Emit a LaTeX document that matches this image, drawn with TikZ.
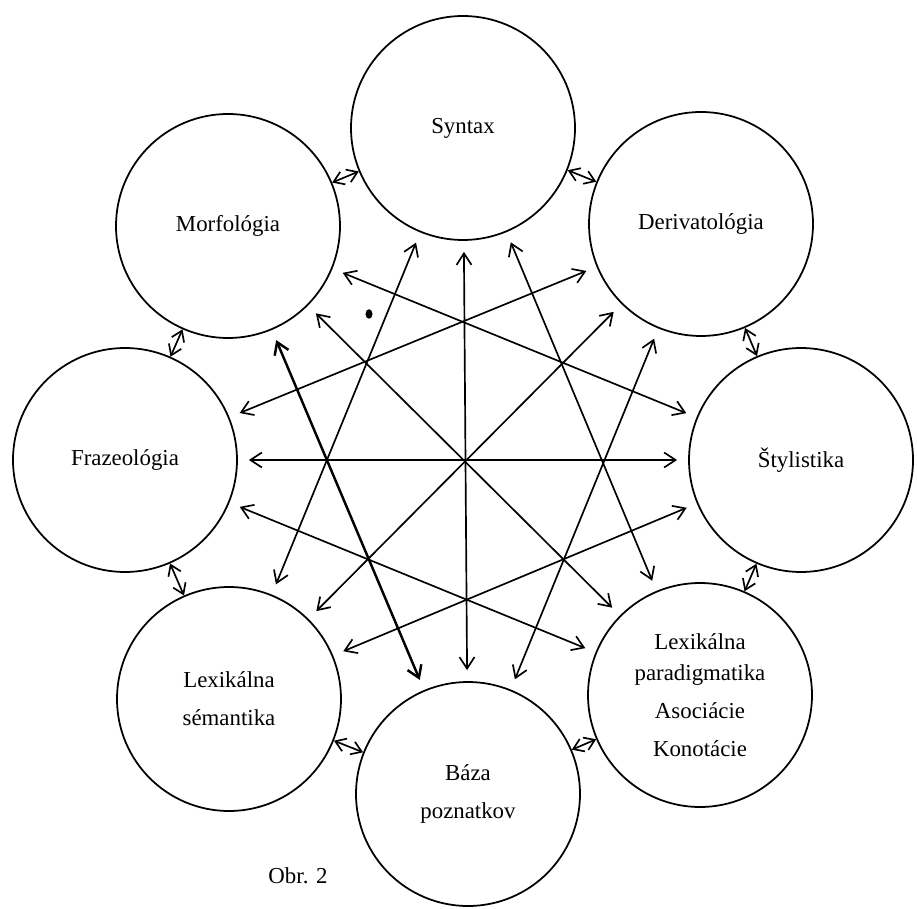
\documentclass[tikz,border=0pt]{standalone}
\usepackage{fontspec}
\setmainfont{Liberation Serif}
\usetikzlibrary{arrows.meta}

\begin{document}
\begin{tikzpicture}[
            discipline/.style={circle, draw, line width=1pt, minimum size=4.48cm, inner sep=0pt, align=center, font=\fontsize{13}{21.5}\selectfont},
            longarrow/.style={{Straight Barb[length=2.3mm,width=3mm]}-{Straight Barb[length=2.3mm,width=3mm]}, line width=0.95pt, shorten >=0.22cm, shorten <=0.22cm},
            shortarrow/.style={{Straight Barb[length=2mm,width=2.7mm]}-{Straight Barb[length=2mm,width=2.7mm]}, line width=0.95pt}
        ]
            \useasboundingbox (-9.26,-8.96) rectangle (9.08,9.2);

% Ring of disciplines
            \node[discipline] (syn) at (0,6.64) {Syntax};
            \node[discipline] (der) at (4.76,4.72) {Derivatológia};
            \node[discipline] (sty) at (6.76,0) {Štylistika};
            \node[discipline] (par) at (4.74,-4.70) {Lexikálna\\[-3.5pt]paradigmatika\\Asociácie\\Konotácie};
            \node[discipline] (baz) at (0.1,-6.68) {Báza\\poznatkov};
            \node[discipline] (sem) at (-4.68,-4.78) {Lexikálna\\sémantika};
            \node[discipline] (fra) at (-6.76,0) {Frazeológia};
            \node[discipline] (mor) at (-4.70,4.68) {Morfológia};

% Neighbours
            \draw[shortarrow] (syn) -- (der);
            \draw[shortarrow] (der) -- (sty);
            \draw[shortarrow] (sty) -- (par);
            \draw[shortarrow] (par) -- (baz);
            \draw[shortarrow] (baz) -- (sem);
            \draw[shortarrow] (sem) -- (fra);
            \draw[shortarrow] (fra) -- (mor);
            \draw[shortarrow] (mor) -- (syn);

% Through the centre
            \draw[longarrow] (syn) -- (baz);
            \draw[longarrow] (der) -- (sem);
            \draw[longarrow] (sty) -- (fra);
            \draw[longarrow] (par) -- (mor);

% Star
            \draw[longarrow] (syn) -- (par);
            \draw[longarrow] (syn) -- (sem);
            \draw[longarrow] (der) -- (baz);
            \draw[longarrow] (der) -- (fra);
            \draw[longarrow] (sty) -- (sem);
            \draw[longarrow] (sty) -- (mor);
            \draw[longarrow] (par) -- (fra);
            \draw[longarrow, line width=1.4pt] (mor) -- (baz);

            \fill (-1.88,2.92) ellipse (0.07 and 0.095);

            \node[font=\fontsize{13}{16}\selectfont] (obr) at (-3.30,-8.32) {Obr. 2};

        \end{tikzpicture}
\end{document}
